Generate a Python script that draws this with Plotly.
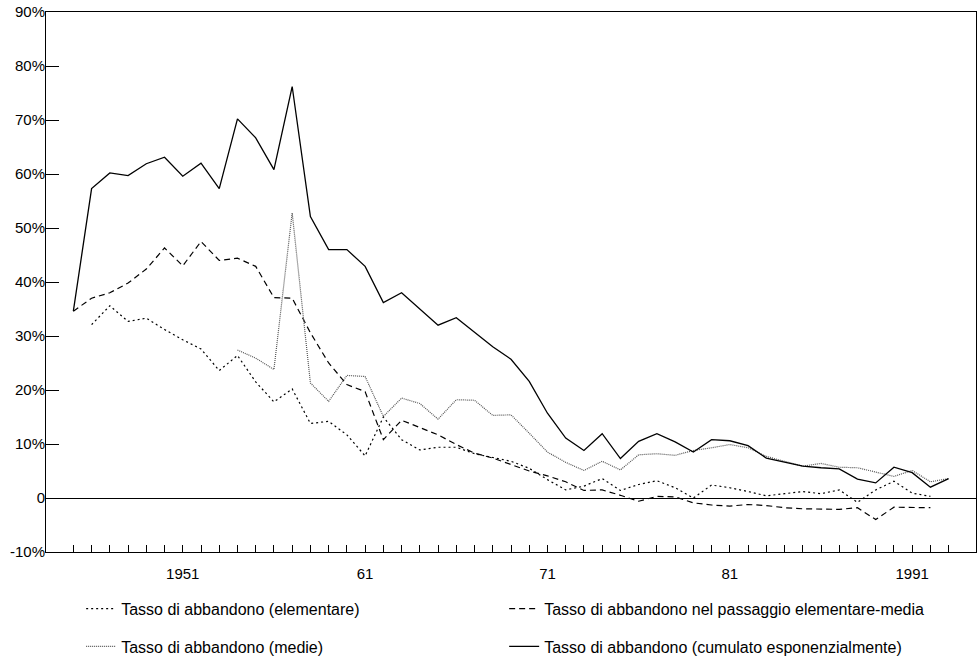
import plotly.graph_objects as go

years = list(range(1945, 1994))

x_tick_labels = {1951: "1951", 1961: "61", 1971: "71", 1981: "81", 1991: "1991"}
y_tick_values = [-10, 0, 10, 20, 30, 40, 50, 60, 70, 80, 90]
y_tick_labels = ["-10%", "0", "10%", "20%", "30%", "40%", "50%", "60%", "70%", "80%", "90%"]

# Tasso di abbandono (elementare), 1946-1992
years_elem = list(range(1946, 1993))
elementare = [32.1, 35.6, 32.7, 33.3, 31.2, 29.3, 27.6, 23.6, 26.4, 21.5,
              17.8, 20.2, 13.8, 14.2, 11.7, 7.8, 15.0, 10.8, 8.9, 9.4,
              9.4, 8.2, 7.5, 6.8, 5.5, 3.4, 1.5, 2.2, 3.6, 1.4,
              2.5, 3.2, 1.9, 0.0, 2.4, 1.9, 1.2, 0.4, 0.8, 1.2,
              0.8, 1.5, -0.8, 1.5, 3.1, 0.9, 0.3]

# Tasso di abbandono nel passaggio elementare-media, 1945-1992
years_pass = list(range(1945, 1993))
passaggio = [34.6, 37.0, 38.0, 39.8, 42.4, 46.3, 43.0, 47.5, 44.0, 44.4,
             42.9, 37.1, 37.0, 30.6, 25.0, 21.0, 19.7, 10.8, 14.4, 13.0,
             11.7, 9.9, 8.3, 7.4, 6.2, 5.0, 4.1, 3.0, 1.4, 1.5,
             0.5, -0.6, 0.3, 0.2, -0.9, -1.3, -1.5, -1.2, -1.4, -1.8,
             -2.0, -2.1, -2.1, -1.8, -4.0, -1.7, -1.8, -1.8]

# Tasso di abbandono (medie), 1954-1993
years_medie = list(range(1954, 1994))
medie = [27.4, 25.9, 23.8, 52.8, 21.3, 17.9, 22.7, 22.5, 15.1, 18.5,
         17.5, 14.6, 18.2, 18.1, 15.3, 15.4, 12.0, 8.5, 6.6, 5.1,
         6.8, 5.2, 8.0, 8.2, 7.9, 8.8, 9.3, 9.9, 9.3, 7.7,
         6.8, 5.9, 6.4, 5.7, 5.6, 4.8, 4.0, 5.1, 3.0, 3.6]

# Tasso di abbandono (cumulato esponenzialmente), 1945-1993
cumulato = [34.6, 57.3, 60.2, 59.7, 61.9, 63.1, 59.6, 62.0, 57.3, 70.2,
            66.7, 60.8, 76.2, 52.1, 46.0, 46.0, 42.9, 36.2, 38.0, 35.0,
            32.0, 33.4, 30.7, 28.0, 25.7, 21.6, 15.7, 11.1, 8.8, 11.9,
            7.3, 10.5, 11.9, 10.4, 8.5, 10.8, 10.6, 9.7, 7.4, 6.6,
            5.9, 5.6, 5.4, 3.5, 2.8, 5.7, 4.7, 2.0, 3.6]

FONT = "Liberation Sans, Arial, sans-serif"

fig = go.Figure()
fig.add_trace(go.Scatter(x=years_elem, y=elementare, mode="lines",
                         name="Tasso di abbandono (elementare)",
                         line=dict(color="black", width=1.2, dash="2px,3px"),
                         legend="legend"))
fig.add_trace(go.Scatter(x=years_pass, y=passaggio, mode="lines",
                         name="Tasso di abbandono nel passaggio elementare-media",
                         line=dict(color="black", width=1.2, dash="6px,4px"),
                         legend="legend"))
fig.add_trace(go.Scatter(x=years_medie, y=medie, mode="lines",
                         name="Tasso di abbandono (medie)",
                         line=dict(color="#555555", width=1.2, dash="1px,1px"),
                         legend="legend2"))
fig.add_trace(go.Scatter(x=years, y=cumulato, mode="lines",
                         name="Tasso di abbandono (cumulato esponenzialmente)",
                         line=dict(color="black", width=1.3),
                         legend="legend2"))

legend_common = dict(orientation="h", xanchor="left", yanchor="middle",
                     x=0.0378, entrywidth=378, entrywidthmode="pixels",
                     font=dict(family=FONT, size=16, color="black"),
                     bgcolor="rgba(0,0,0,0)", borderwidth=0, traceorder="normal")

fig.update_layout(
    width=979, height=669,
    margin=dict(l=46, r=3, t=12, b=117),
    paper_bgcolor="white", plot_bgcolor="white",
    font=dict(family=FONT, size=15, color="black"),
    showlegend=True,
    legend=dict(y=-0.105, **legend_common),
    legend2=dict(y=-0.175, **legend_common),
)

fig.update_xaxes(
    range=[1943.5, 1994.5],
    tickmode="array", tickvals=years,
    ticktext=[x_tick_labels.get(y, "") for y in years],
    ticks="inside", ticklen=7, tickwidth=1, tickcolor="black",
    showline=True, linecolor="black", linewidth=1, mirror=True,
    showgrid=False, zeroline=False,
    tickfont=dict(family=FONT, size=15, color="black"),
    ticklabelstandoff=8,
)
fig.update_yaxes(
    range=[-10, 90],
    tickmode="array", tickvals=y_tick_values, ticktext=y_tick_labels,
    ticks="inside", ticklen=13, tickwidth=1, tickcolor="black",
    showline=True, linecolor="black", linewidth=1, mirror=True,
    showgrid=False,
    zeroline=True, zerolinecolor="black", zerolinewidth=1,
    tickfont=dict(family=FONT, size=15, color="black"),
    ticklabelstandoff=-3,
)

fig.write_html("out.html")
